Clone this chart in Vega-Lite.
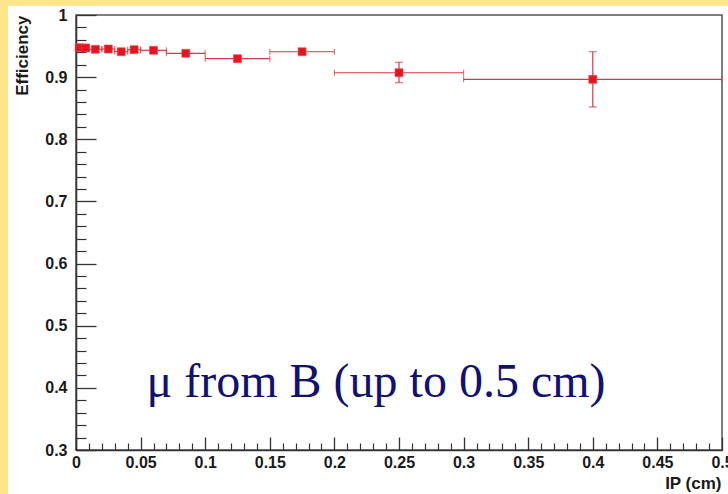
{
  "$schema": "https://vega.github.io/schema/vega-lite/v6.json",
  "width": 646,
  "height": 435,
  "autosize": {"type": "none"},
  "padding": {"left": 76, "top": 15, "right": 6, "bottom": 44},
  "background": "#ffffff",
  "config": {
    "view": {"stroke": "#555555", "strokeWidth": 1.5},
    "font": "Liberation Sans"
  },
  "data": {
    "values": [
      {"ip": 0.0025, "lo": 0.0, "hi": 0.005, "eff": 0.9474, "elo": 0.9452, "ehi": 0.9496},
      {"ip": 0.0075, "lo": 0.005, "hi": 0.01, "eff": 0.9470, "elo": 0.9448, "ehi": 0.9492},
      {"ip": 0.015, "lo": 0.01, "hi": 0.02, "eff": 0.9448, "elo": 0.9425, "ehi": 0.9471},
      {"ip": 0.025, "lo": 0.02, "hi": 0.03, "eff": 0.9453, "elo": 0.9428, "ehi": 0.9478},
      {"ip": 0.035, "lo": 0.03, "hi": 0.04, "eff": 0.9409, "elo": 0.9382, "ehi": 0.9436},
      {"ip": 0.045, "lo": 0.04, "hi": 0.05, "eff": 0.9442, "elo": 0.9414, "ehi": 0.9470},
      {"ip": 0.06, "lo": 0.05, "hi": 0.07, "eff": 0.9432, "elo": 0.9405, "ehi": 0.9459},
      {"ip": 0.085, "lo": 0.07, "hi": 0.10, "eff": 0.9384, "elo": 0.9355, "ehi": 0.9413},
      {"ip": 0.125, "lo": 0.10, "hi": 0.15, "eff": 0.9297, "elo": 0.9262, "ehi": 0.9332},
      {"ip": 0.175, "lo": 0.15, "hi": 0.20, "eff": 0.9409, "elo": 0.9370, "ehi": 0.9448},
      {"ip": 0.25, "lo": 0.20, "hi": 0.30, "eff": 0.9071, "elo": 0.8911, "ehi": 0.9239},
      {"ip": 0.40, "lo": 0.30, "hi": 0.50, "eff": 0.8965, "elo": 0.8520, "ehi": 0.9409}
    ]
  },
  "resolve": {"axis": {"x": "independent", "y": "independent"}},
  "layer": [
    {
      "data": {"values": [{"part": "left"}]},
      "mark": {"type": "rect", "color": "#fde58c", "clip": false},
      "encoding": {
        "x": {"datum": -0.08, "type": "quantitative", "axis": null, "scale": {"domain": [0, 0.5], "nice": false, "zero": false}},
        "x2": {"datum": -0.0526},
        "y": {"datum": 1.2, "type": "quantitative", "axis": null, "scale": {"domain": [0.3, 1], "nice": false, "zero": false}},
        "y2": {"datum": 0.0}
      }
    },
    {
      "data": {"values": [{"part": "top"}]},
      "mark": {"type": "rect", "color": "#fde58c", "clip": false},
      "encoding": {
        "x": {"datum": -0.08, "type": "quantitative", "axis": null, "scale": {"domain": [0, 0.5], "nice": false, "zero": false}},
        "x2": {"datum": 0.6},
        "y": {"datum": 1.2, "type": "quantitative", "axis": null, "scale": {"domain": [0.3, 1], "nice": false, "zero": false}},
        "y2": {"datum": 1.0145}
      }
    },
    {
      "mark": {"type": "rule", "color": "#d43a4a", "strokeWidth": 1.2},
      "encoding": {
        "x": {"field": "lo", "type": "quantitative", "scale": {"domain": [0, 0.5], "nice": false, "zero": false},
          "axis": {"orient": "bottom", "values": [0, 0.05, 0.1, 0.15, 0.2, 0.25, 0.3, 0.35, 0.4, 0.45, 0.5], "tickSize": -13, "tickColor": "#333333", "tickWidth": 1.3, "labels": false, "domain": false, "grid": false, "title": null}},
        "x2": {"field": "hi"},
        "y": {"field": "eff", "type": "quantitative", "scale": {"domain": [0.3, 1], "nice": false, "zero": false},
          "axis": {"orient": "left", "values": [0.3, 0.4, 0.5, 0.6, 0.7, 0.8, 0.9, 1.0], "tickSize": -20, "tickColor": "#333333", "tickWidth": 1.3, "labels": false, "domain": false, "grid": false, "title": null}}
      }
    },
    {
      "mark": {"type": "rule", "color": "#d43a4a", "strokeWidth": 1.2},
      "encoding": {
        "x": {"field": "ip", "type": "quantitative", "scale": {"domain": [0, 0.5], "nice": false, "zero": false},
          "axis": {"orient": "bottom", "values": [0.01, 0.02, 0.03, 0.04, 0.06, 0.07, 0.08, 0.09, 0.11, 0.12, 0.13, 0.14, 0.16, 0.17, 0.18, 0.19, 0.21, 0.22, 0.23, 0.24, 0.26, 0.27, 0.28, 0.29, 0.31, 0.32, 0.33, 0.34, 0.36, 0.37, 0.38, 0.39, 0.41, 0.42, 0.43, 0.44, 0.46, 0.47, 0.48, 0.49], "tickSize": -7, "tickColor": "#333333", "tickWidth": 1.2, "labels": false, "domain": false, "grid": false, "title": null}},
        "y": {"field": "elo", "type": "quantitative", "scale": {"domain": [0.3, 1], "nice": false, "zero": false},
          "axis": {"orient": "left", "values": [0.32, 0.34, 0.36, 0.38, 0.42, 0.44, 0.46, 0.48, 0.52, 0.54, 0.56, 0.58, 0.62, 0.64, 0.66, 0.68, 0.72, 0.74, 0.76, 0.78, 0.82, 0.84, 0.86, 0.88, 0.92, 0.94, 0.96, 0.98], "tickSize": -10, "tickColor": "#333333", "tickWidth": 1.2, "labels": false, "domain": false, "grid": false, "title": null}},
        "y2": {"field": "ehi"}
      }
    },
    {
      "mark": {"type": "tick", "orient": "vertical", "color": "#d43a4a", "size": 6, "thickness": 1.2},
      "encoding": {
        "x": {"field": "lo", "type": "quantitative", "axis": null, "scale": {"domain": [0, 0.5], "nice": false, "zero": false}},
        "y": {"field": "eff", "type": "quantitative", "axis": null, "scale": {"domain": [0.3, 1], "nice": false, "zero": false}}
      }
    },
    {
      "mark": {"type": "tick", "orient": "vertical", "color": "#d43a4a", "size": 6, "thickness": 1.2},
      "encoding": {
        "x": {"field": "hi", "type": "quantitative", "axis": null, "scale": {"domain": [0, 0.5], "nice": false, "zero": false}},
        "y": {"field": "eff", "type": "quantitative", "axis": null, "scale": {"domain": [0.3, 1], "nice": false, "zero": false}}
      }
    },
    {
      "mark": {"type": "tick", "orient": "horizontal", "color": "#d43a4a", "size": 8, "thickness": 1.2},
      "encoding": {
        "x": {"field": "ip", "type": "quantitative", "axis": null, "scale": {"domain": [0, 0.5], "nice": false, "zero": false}},
        "y": {"field": "elo", "type": "quantitative", "axis": null, "scale": {"domain": [0.3, 1], "nice": false, "zero": false}}
      }
    },
    {
      "mark": {"type": "tick", "orient": "horizontal", "color": "#d43a4a", "size": 8, "thickness": 1.2},
      "encoding": {
        "x": {"field": "ip", "type": "quantitative", "axis": null, "scale": {"domain": [0, 0.5], "nice": false, "zero": false}},
        "y": {"field": "ehi", "type": "quantitative", "axis": null, "scale": {"domain": [0.3, 1], "nice": false, "zero": false}}
      }
    },
    {
      "mark": {"type": "point", "shape": "square", "filled": true, "size": 64, "color": "#e6141f", "opacity": 1, "stroke": "#ef4a55", "strokeWidth": 0.6},
      "encoding": {
        "x": {"field": "ip", "type": "quantitative", "scale": {"domain": [0, 0.5], "nice": false, "zero": false},
          "axis": {"orient": "bottom", "values": [0, 0.05, 0.1, 0.15, 0.2, 0.25, 0.3, 0.35, 0.4, 0.45, 0.5], "format": "~g", "ticks": false, "tickSize": 0, "labelPadding": 4, "labelFont": "Liberation Sans", "labelFontWeight": "bold", "labelFontSize": 16, "labelColor": "#1a1a1a", "domainColor": "#333333", "domainWidth": 1.5, "grid": false, "labelFlush": false, "labelOverlap": false,
            "title": "IP (cm)", "titleFont": "Liberation Sans", "titleFontWeight": "bold", "titleFontSize": 17, "titleColor": "#1a1a1a", "titleX": 645, "titleY": 38, "titleAlign": "right", "titleBaseline": "alphabetic", "titleAngle": 0}},
        "y": {"field": "eff", "type": "quantitative", "scale": {"domain": [0.3, 1], "nice": false, "zero": false},
          "axis": {"orient": "left", "values": [0.3, 0.4, 0.5, 0.6, 0.7, 0.8, 0.9, 1.0], "format": "~g", "ticks": false, "tickSize": 0, "labelPadding": 9, "labelFont": "Liberation Sans", "labelFontWeight": "bold", "labelFontSize": 16, "labelColor": "#1a1a1a", "domainColor": "#333333", "domainWidth": 1.5, "grid": false, "labelFlush": false, "labelOverlap": false,
            "title": "Efficiency", "titleFont": "Liberation Sans", "titleFontWeight": "bold", "titleFontSize": 17, "titleColor": "#1a1a1a", "titleX": -49, "titleY": 0, "titleAlign": "right", "titleBaseline": "alphabetic", "titleAngle": -90}}
      }
    },
    {
      "data": {"values": [{"label": "μ from B (up to 0.5 cm)"}]},
      "mark": {"type": "text", "font": "Liberation Serif", "fontSize": 48, "color": "#111170", "align": "center", "baseline": "alphabetic"},
      "encoding": {
        "x": {"datum": 0.2322, "type": "quantitative", "axis": null, "scale": {"domain": [0, 0.5], "nice": false, "zero": false}},
        "y": {"datum": 0.3853, "type": "quantitative", "axis": null, "scale": {"domain": [0.3, 1], "nice": false, "zero": false}},
        "text": {"field": "label"}
      }
    }
  ]
}
